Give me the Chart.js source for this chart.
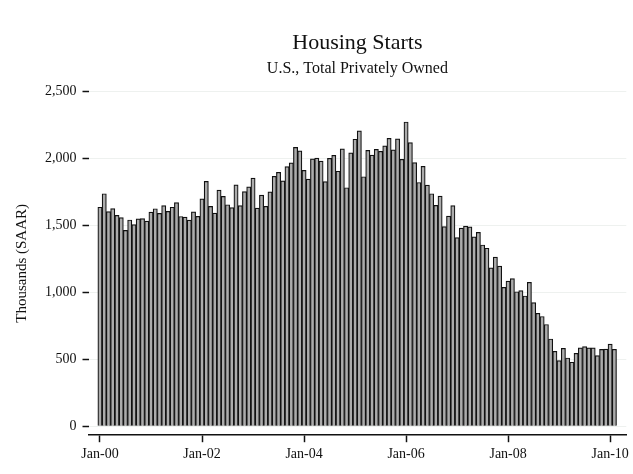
<!DOCTYPE html>
<html>
<head>
<meta charset="utf-8">
<script src="https://cdn.jsdelivr.net/npm/chart.js@4"></script>
<style>
  html, body { margin: 0; padding: 0; background: #ffffff; }
  #wrap { width: 633px; height: 474px; }
</style>
</head>
<body>
<div id="wrap"><canvas id="c" width="633" height="474"></canvas></div>
<script>
// Housing starts, total privately owned, thousands SAAR, monthly from Jan 2000
const starts2000 = [1636, 1737, 1604, 1626, 1575, 1559, 1463, 1541, 1507, 1549, 1551, 1532];
const starts2001 = [1600, 1625, 1590, 1649, 1605, 1636, 1670, 1567, 1562, 1540, 1602, 1568];
const starts2002 = [1698, 1829, 1642, 1592, 1764, 1717, 1655, 1633, 1804, 1648, 1753, 1788];
const starts2003 = [1853, 1629, 1726, 1643, 1751, 1867, 1897, 1833, 1939, 1967, 2083, 2057];
const starts2004 = [1911, 1846, 1998, 2003, 1981, 1828, 2002, 2024, 1905, 2072, 1782, 2042];
const starts2005 = [2144, 2207, 1864, 2061, 2025, 2068, 2054, 2095, 2151, 2065, 2147, 1994];
const starts2006 = [2273, 2119, 1969, 1821, 1942, 1802, 1737, 1650, 1720, 1491, 1570, 1649];
const starts2007 = [1409, 1480, 1495, 1490, 1415, 1448, 1354, 1330, 1183, 1264, 1197, 1037];
const starts2008 = [1084, 1103, 1005, 1013, 973, 1075, 923, 844, 820, 760, 652, 560];
const starts2009 = [490, 582, 510, 478, 545, 585, 595, 586, 586, 527, 574, 576];
const starts2010 = [614, 575];

const startYear = 2000;
const monthNames = ['Jan','Feb','Mar','Apr','May','Jun','Jul','Aug','Sep','Oct','Nov','Dec'];
const yTickValues = [0, 500, 1000, 1500, 2000, 2500];
const xTickMonths = [0, 24, 48, 72, 96, 120];
const xTickLabels = ['Jan-00', 'Jan-02', 'Jan-04', 'Jan-06', 'Jan-08', 'Jan-10'];

const values = [].concat(starts2000, starts2001, starts2002, starts2003, starts2004,
  starts2005, starts2006, starts2007, starts2008, starts2009, starts2010);
const categories = values.map((v, i) =>
  monthNames[i % 12] + '-' + String((startYear + Math.floor(i / 12)) % 100).padStart(2, '0'));
const points = values.map((v, i) => ({ x: i, y: v }));

const FONT = "'Liberation Serif', 'DejaVu Serif', serif";

new Chart(document.getElementById('c'), {
  type: 'bar',
  data: {
    labels: categories,
    datasets: [{
      data: points,
      backgroundColor: '#acacac',
      borderColor: '#111111',
      borderWidth: 1.2,
      barPercentage: 1.0,
      categoryPercentage: 1.0
    }]
  },
  options: {
    responsive: false,
    animation: false,
    devicePixelRatio: 1,
    layout: { padding: { left: 13, right: 6, top: 0, bottom: 7 } },
    plugins: {
      legend: { display: false },
      tooltip: { enabled: false },
      title: {
        display: true,
        fullSize: false,
        text: 'Housing Starts',
        color: '#111111',
        font: { family: FONT, size: 22, weight: 'normal' },
        padding: { top: 30, bottom: 3 }
      },
      subtitle: {
        display: true,
        fullSize: false,
        text: 'U.S., Total Privately Owned',
        color: '#111111',
        font: { family: FONT, size: 16, weight: 'normal' },
        padding: { top: 0, bottom: 13 }
      }
    },
    scales: {
      x: {
        type: 'linear',
        offset: false,
        min: -2.7,
        max: 123.8,
        afterBuildTicks: (scale) => { scale.ticks = xTickMonths.map(v => ({ value: v })); },
        ticks: {
          autoSkip: false,
          maxRotation: 0,
          color: '#111111',
          padding: 4,
          font: { family: FONT, size: 14 },
          callback: (v) => { const k = xTickMonths.indexOf(v); return k >= 0 ? xTickLabels[k] : ''; }
        },
        grid: {
          offset: false,
          drawOnChartArea: false,
          drawTicks: true,
          tickLength: 7,
          tickColor: '#111111',
          tickWidth: 1.5
        },
        border: { display: true, color: '#111111', width: 1.5 }
      },
      y: {
        min: -67,
        max: 2500,
        afterBuildTicks: (scale) => { scale.ticks = yTickValues.map(v => ({ value: v })); },
        title: {
          display: true,
          text: 'Thousands (SAAR)',
          color: '#111111',
          font: { family: FONT, size: 15 },
          padding: { top: 0, bottom: 8 }
        },
        ticks: {
          color: '#111111',
          padding: 6,
          font: { family: FONT, size: 14 },
          callback: (v) => v.toLocaleString('en-US')
        },
        grid: {
          offset: false,
          color: '#eef1ef',
          lineWidth: 1,
          tickLength: 6,
          tickColor: '#111111',
          tickWidth: 1.5
        },
        border: { display: false }
      }
    }
  }
});
</script>
</body>
</html>
